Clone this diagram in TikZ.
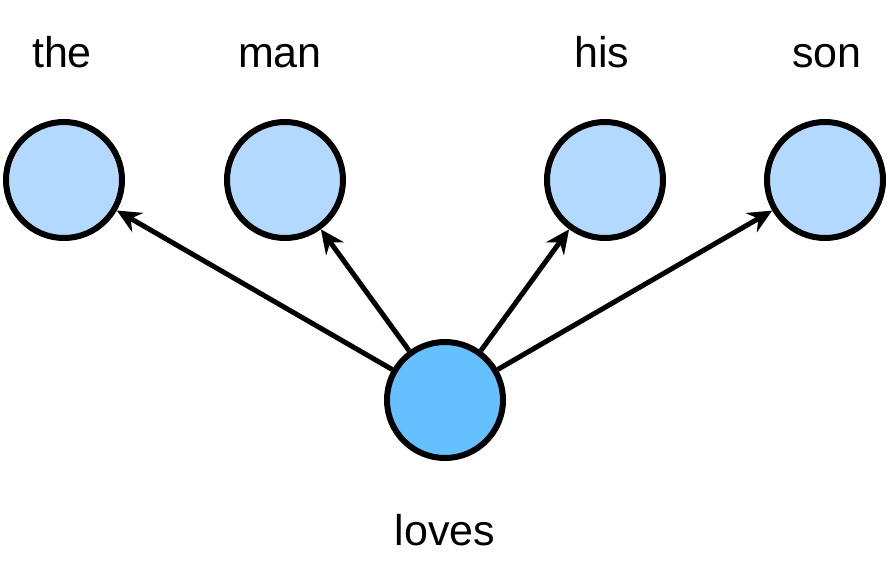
\documentclass[tikz,border=0pt]{standalone}
\usepackage{fontspec}
\setmainfont{Liberation Sans}
\usetikzlibrary{arrows.meta}
\definecolor{lightnode}{HTML}{B3D9FF}
\definecolor{darknode}{HTML}{66BFFF}
\tikzset{
  wordnode/.style={circle, draw=black, line width=6pt, minimum size=116pt, inner sep=0pt, fill=lightnode},
  centernode/.style={wordnode, fill=darknode},
  lbl/.style={anchor=base, inner sep=0pt, font=\fontsize{43pt}{50pt}\selectfont},
  linkarrow/.style={line width=5pt, -{Stealth[length=24pt, width=22pt, inset=8pt]}}
}
\begin{document}
\begin{tikzpicture}
\useasboundingbox (0pt,0pt) rectangle (892pt,-584pt);
\node[wordnode] (the) at (64pt,-180pt) {};
\node[wordnode] (man) at (285pt,-180pt) {};
\node[wordnode] (his) at (605pt,-180pt) {};
\node[wordnode] (son) at (825pt,-180pt) {};
\node[centernode] (loves) at (445pt,-400pt) {};
\node[lbl] (lthe) at (62pt,-67pt) {the};
\node[lbl] (lman) at (280pt,-67pt) {man};
\node[lbl] (lhis) at (602pt,-67pt) {his};
\node[lbl] (lson) at (827pt,-67pt) {son};
\node[lbl] (lloves) at (445pt,-545pt) {loves};
\draw[linkarrow] (loves) -- (the);
\draw[linkarrow] (loves) -- (man);
\draw[linkarrow] (loves) -- (his);
\draw[linkarrow] (loves) -- (son);
\end{tikzpicture}
\end{document}
